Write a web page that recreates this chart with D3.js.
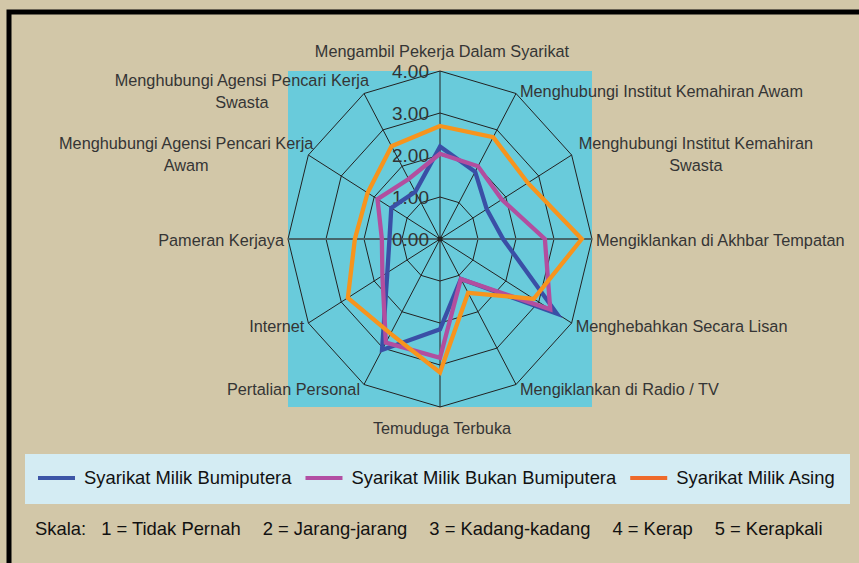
<!DOCTYPE html>
<html>
<head>
<meta charset="utf-8">
<script src="https://cdn.jsdelivr.net/npm/d3@7"></script>
<style>
  html, body { margin: 0; padding: 0; background: #d2c7a8; }
  svg { display: block; }
  .lbl { font-family: "Liberation Sans", Arial, sans-serif; font-size: 16.3px; fill: #353535; }
  .tick { font-family: "Liberation Sans", Arial, sans-serif; font-size: 19px; fill: #333; }
  .leg { font-family: "Liberation Sans", Arial, sans-serif; font-size: 18.4px; fill: #111; }
</style>
</head>
<body>
<svg id="chart" width="859" height="563"></svg>
<script>
// ── Data ────────────────────────────────────────────────────────────────────
const axisLabels = [
  'Mengambil Pekerja Dalam Syarikat',
  'Menghubungi Institut Kemahiran Awam',
  'Menghubungi Institut Kemahiran\nSwasta',
  'Mengiklankan di Akhbar Tempatan',
  'Menghebahkan Secara Lisan',
  'Mengiklankan di Radio / TV',
  'Temuduga Terbuka',
  'Pertalian Personal',
  'Internet',
  'Pameran Kerjaya',
  'Menghubungi Agensi Pencari Kerja\nAwam',
  'Menghubungi Agensi Pencari Kerja\nSwasta'
];

const bumiputera      = [2.20, 1.85, 1.42, 1.66, 3.55, 1.10, 2.15, 3.05, 1.60, 1.33, 1.48, 1.30];
const bukanBumiputera = [2.03, 2.00, 1.88, 2.76, 3.35, 1.10, 2.83, 2.85, 1.75, 1.53, 1.90, 1.65];
const asing           = [2.69, 2.80, 2.67, 3.73, 2.85, 1.48, 3.18, 2.60, 2.80, 2.24, 2.20, 2.55];

const seriesNames  = ['Syarikat Milik Bumiputera', 'Syarikat Milik Bukan Bumiputera', 'Syarikat Milik Asing'];
const lineColors   = ['#3a4fa6', '#b24e9f', '#f7941d'];
const legendColors = ['#3c55a6', '#b24fa3', '#ee6a2a'];

const tickValues = [0, 1, 2, 3, 4];
const scaleNotes = ['Skala:', '1 = Tidak Pernah', '2 = Jarang-jarang', '3 = Kadang-kadang', '4 = Kerap', '5 = Kerapkali'];

// ── Layout ──────────────────────────────────────────────────────────────────
const svg = d3.select('#chart');
const cx = 440, cy = 239;
const RX = 152, RY = 168;

// frame
svg.append('rect')
  .attr('x', 9).attr('y', 12)
  .attr('width', 900).attr('height', 600)
  .attr('fill', '#d2c7a8')
  .attr('stroke', '#000').attr('stroke-width', 5);

// plot area
svg.append('rect')
  .attr('x', cx - RX).attr('y', cy - RY)
  .attr('width', RX * 2).attr('height', RY * 2)
  .attr('fill', '#69cbdb');

const rX = d3.scaleLinear().domain([0, 4]).range([0, RX]);
const rY = d3.scaleLinear().domain([0, 4]).range([0, RY]);
const angle = d3.scaleLinear().domain([0, axisLabels.length]).range([0, 2 * Math.PI]);

const px = (v, i) => cx + rX(v) * Math.sin(angle(i));
const py = (v, i) => cy - rY(v) * Math.cos(angle(i));

const g = svg.append('g');

// rings
const ringLine = d3.line()
  .x((d, i) => px(d, i))
  .y((d, i) => py(d, i))
  .curve(d3.curveLinearClosed);

tickValues.slice(1).forEach(t => {
  g.append('path')
    .attr('d', ringLine(axisLabels.map(() => t)))
    .attr('fill', 'none')
    .attr('stroke', '#222')
    .attr('stroke-width', 1);
});

// spokes
axisLabels.forEach((_, i) => {
  const horiz = i % 6 === 3;
  g.append('line')
    .attr('x1', cx).attr('y1', cy)
    .attr('x2', px(4, i)).attr('y2', py(4, i))
    .attr('stroke', horiz ? '#46666c' : '#222')
    .attr('stroke-width', horiz ? 2 : 1);
});

g.append('circle').attr('cx', cx).attr('cy', cy).attr('r', 2.5).attr('fill', '#222');

// value labels
g.selectAll('text.tick')
  .data(tickValues)
  .join('text')
  .attr('class', 'tick')
  .attr('x', cx - 11)
  .attr('y', d => cy - rY(d))
  .attr('dy', '0.38em')
  .attr('text-anchor', 'end')
  .text(d => d.toFixed(2));

// series
[bumiputera, bukanBumiputera, asing].forEach((vals, s) => {
  g.append('path')
    .attr('d', ringLine(vals))
    .attr('fill', 'none')
    .attr('stroke', lineColors[s])
    .attr('stroke-width', 4.3)
    .attr('stroke-linejoin', 'miter');
});

// category labels
const LH = 21.5;
axisLabels.forEach((label, i) => {
  const a = angle(i);
  const vx = px(4, i), vy = py(4, i);
  const lines = label.split('\n');
  const t = svg.append('text').attr('class', 'lbl');
  lines.forEach((ln, k) => t.append('tspan').attr('x', 0).attr('dy', k ? LH : 0).text(ln));

  let anchor, x, cyBlock;
  const sin = Math.sin(a), cos = Math.cos(a);
  if (Math.abs(sin) < 0.01) {
    anchor = 'middle';
    x = vx + 2;
    cyBlock = cos > 0 ? vy - 20 : vy + 21;
  } else {
    cyBlock = vy + 1 - 4 * cos;
    if (lines.length > 1) {
      // block of centred lines
      const w = d3.max(t.selectAll('tspan').nodes(), n => n.getComputedTextLength());
      anchor = 'middle';
      x = sin > 0 ? vx + 7 + w / 2 : vx + 5 - w / 2;
    } else {
      anchor = sin > 0 ? 'start' : 'end';
      x = sin > 0 ? vx + 4 : vx - 4;
    }
  }
  const firstBase = cyBlock + 6 - (lines.length - 1) * LH / 2;
  t.attr('text-anchor', anchor).attr('transform', `translate(${x},${firstBase})`);
});

// ── Legend ──────────────────────────────────────────────────────────────────
svg.append('rect')
  .attr('x', 25).attr('y', 454)
  .attr('width', 825).attr('height', 50)
  .attr('fill', '#d4ecf3');

let lx = 38;
seriesNames.forEach((name, s) => {
  svg.append('line')
    .attr('x1', lx).attr('x2', lx + 37)
    .attr('y1', 478).attr('y2', 478)
    .attr('stroke', legendColors[s]).attr('stroke-width', 4);
  const t = svg.append('text')
    .attr('class', 'leg')
    .attr('x', lx + 46).attr('y', 484)
    .text(name);
  lx = lx + 46 + t.node().getComputedTextLength() + 14;
});

let sx = 35;
scaleNotes.forEach((note, k) => {
  const t = svg.append('text')
    .attr('class', 'leg')
    .attr('x', sx).attr('y', 535)
    .text(note);
  sx += t.node().getComputedTextLength() + (k === 0 ? 15 : 22);
});
</script>
</body>
</html>
